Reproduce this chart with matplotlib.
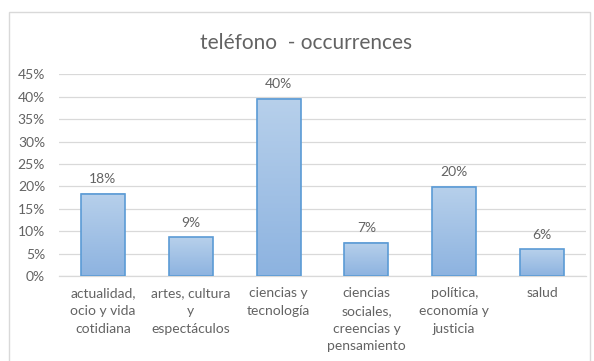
import numpy as np
from matplotlib import pyplot as plt
from matplotlib.patches import Rectangle
from matplotlib.colors import LinearSegmentedColormap
from matplotlib.ticker import PercentFormatter

categorias = ['actualidad,\nocio y vida\ncotidiana',
              'artes, cultura\ny\nespectáculos',
              'ciencias y\ntecnología',
              'ciencias\nsociales,\ncreencias y\npensamiento',
              'política,\neconomía y\njusticia',
              'salud']
porcentajes = [18.4, 8.7, 39.6, 7.4, 19.9, 6.0]
marcas_y = [0, 5, 10, 15, 20, 25, 30, 35, 40, 45]

gris_texto = '#636363'
gris_linea = '#d9d9d9'

plt.rcParams['font.family'] = ['Lato', 'DejaVu Sans']

fig = plt.figure(figsize=(5.94, 3.61), dpi=100)
ax = fig.add_axes([0.0993, 0.2355, 0.8872, 0.5585])

x = np.arange(len(categorias))
barras = ax.bar(x, porcentajes, width=0.5, color='none',
                edgecolor='#5b9bd5', linewidth=1.2, zorder=3)

# degradado vertical dentro de cada barra
degradado = np.linspace(0, 1, 100).reshape(-1, 1)
cmap = LinearSegmentedColormap.from_list('azul', ['#8db3e0', '#b7d0eb'])
for b in barras:
    x0, w, h = b.get_x(), b.get_width(), b.get_height()
    ax.imshow(degradado, cmap=cmap, origin='lower', aspect='auto',
              extent=(x0, x0 + w, 0, h), zorder=2)

for b, v in zip(barras, porcentajes):
    ax.annotate('{:.0f}%'.format(v), (b.get_x() + b.get_width() / 2, v),
                xytext=(0, 6), textcoords='offset points',
                ha='center', va='bottom', fontsize=10, color=gris_texto)

ax.set_xlim(-0.5, len(categorias) - 0.5)
ax.set_ylim(0, 45)
ax.set_yticks(marcas_y)
ax.yaxis.set_major_formatter(PercentFormatter(decimals=0))
ax.set_xticks(x)
ax.set_xticklabels(categorias, linespacing=1.58)
ax.tick_params(axis='both', length=0, labelsize=10, colors=gris_texto)
ax.tick_params(axis='x', pad=8)
ax.tick_params(axis='y', pad=10)
ax.grid(axis='y', color=gris_linea, linewidth=0.9, zorder=0)
ax.set_axisbelow(True)
for lado in ['top', 'right', 'left']:
    ax.spines[lado].set_visible(False)
ax.spines['bottom'].set_color(gris_linea)
ax.spines['bottom'].set_linewidth(0.9)

fig.text(0.515, 1 - 43 / 361, 'teléfono  - occurrences', ha='center',
         va='center', fontsize=15, color=gris_texto)

# marco del grafico
fig.patches.append(Rectangle((9 / 594, -0.05), 581 / 594, 1.05 - 12 / 361,
                             transform=fig.transFigure, fill=False,
                             edgecolor=gris_linea, linewidth=1))

plt.savefig('out.png', dpi=100)
